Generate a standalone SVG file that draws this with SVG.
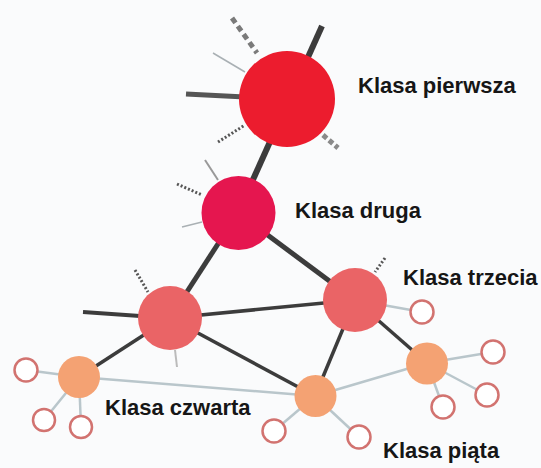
<svg xmlns="http://www.w3.org/2000/svg" width="541" height="468" viewBox="0 0 541 468">
<style>
.lbl{font-family:"Liberation Sans",Arial,sans-serif;font-weight:bold;font-size:22px;fill:#161616}
.dk{stroke:#3c3c3c;stroke-linecap:butt;fill:none}
.lt{stroke:#b9c6cb;stroke-width:2.5;fill:none}
.th{stroke:#a9b0b4;stroke-width:1.5;fill:none}
.dot{stroke:#555;stroke-width:3;stroke-dasharray:2 2;fill:none}
.dash{stroke:#7a7a7a;stroke-width:5;stroke-dasharray:6 4;fill:none}
.hol{fill:#ffffff;stroke:#d27370;stroke-width:2.5}
.or{fill:#f4a273}
.sal{fill:#ea6466}
</style>
<rect width="541" height="468" fill="#fafbfc"/>
<g id="connectors">
  <line class="dk" x1="322" y1="26" x2="238" y2="213" stroke-width="6"/>
  <line class="dk" x1="186" y1="94" x2="245" y2="97" stroke-width="5" style="stroke:#555"/>
  <line class="dash" x1="232" y1="18" x2="257" y2="53"/>
  <line class="dot" x1="218" y1="142" x2="245" y2="125"/>
  <line class="dash" x1="323" y1="135" x2="338" y2="148" style="stroke:#8a8a8a;stroke-dasharray:5 3"/>
  <line class="th" x1="213" y1="53" x2="245" y2="72"/>
  <line class="dk" x1="238" y1="213" x2="170" y2="318" stroke-width="5"/>
  <line class="dk" x1="238" y1="213" x2="355" y2="300" stroke-width="5"/>
  <line class="dot" x1="177" y1="184" x2="202" y2="195"/>
  <line class="th" x1="205" y1="160" x2="218" y2="180" style="stroke:#999;stroke-width:2"/>
  <line class="th" x1="182" y1="227" x2="202" y2="222"/>
  <line class="dk" x1="83" y1="312" x2="140" y2="316" stroke-width="4"/>
  <line class="dk" x1="170" y1="318" x2="355" y2="300" stroke-width="3.5"/>
  <line class="dk" x1="170" y1="318" x2="315" y2="396" stroke-width="3.5"/>
  <line class="dk" x1="170" y1="318" x2="79" y2="377" stroke-width="3.5"/>
  <line class="dot" x1="135" y1="270" x2="148" y2="292"/>
  <line class="th" x1="175" y1="350" x2="177" y2="367" style="stroke:#bbb;stroke-width:2"/>
  <line class="dk" x1="355" y1="300" x2="315" y2="396" stroke-width="3.5"/>
  <line class="dk" x1="355" y1="300" x2="427" y2="363" stroke-width="3.5"/>
  <line class="dot" x1="385" y1="258" x2="375" y2="272"/>
  <line class="lt" x1="355" y1="300" x2="422" y2="312"/>
  <line class="lt" x1="79" y1="377" x2="315" y2="396"/>
  <line class="lt" x1="315" y1="396" x2="427" y2="363"/>
  <line class="lt" x1="79" y1="377" x2="26" y2="370"/>
  <line class="lt" x1="79" y1="377" x2="44" y2="420"/>
  <line class="lt" x1="79" y1="377" x2="81" y2="427"/>
  <line class="lt" x1="315" y1="396" x2="274" y2="431"/>
  <line class="lt" x1="315" y1="396" x2="359" y2="437"/>
  <line class="lt" x1="427" y1="363" x2="493" y2="352"/>
  <line class="lt" x1="427" y1="363" x2="487" y2="395"/>
  <line class="lt" x1="427" y1="363" x2="443" y2="407"/>
</g>
<g id="klasa-pierwsza">
  <circle cx="287" cy="99" r="48" fill="#ec1c2e"/>
  <text class="lbl" x="358" y="93">Klasa pierwsza</text>
</g>
<g id="klasa-druga">
  <circle cx="238.5" cy="213" r="37" fill="#e5164f"/>
  <text class="lbl" x="295" y="218">Klasa druga</text>
</g>
<g id="klasa-trzecia">
  <circle class="sal" cx="355" cy="300" r="32"/>
  <text class="lbl" x="403" y="285">Klasa trzecia</text>
</g>
<g id="klasa-trzecia-2">
  <circle class="sal" cx="170" cy="318" r="32"/>
</g>
<g id="klasa-czwarta">
  <circle class="or" cx="79" cy="377" r="21"/>
  <text class="lbl" x="105" y="415">Klasa czwarta</text>
</g>
<g id="klasa-czwarta-2">
  <circle class="or" cx="315.5" cy="396" r="21"/>
</g>
<g id="klasa-czwarta-3">
  <circle class="or" cx="427" cy="363.5" r="21"/>
</g>
<g id="klasa-piata">
  <circle class="hol" cx="26" cy="370" r="11.5"/>
  <circle class="hol" cx="44" cy="420" r="11"/>
  <circle class="hol" cx="81" cy="427" r="11"/>
  <circle class="hol" cx="274" cy="431" r="11.5"/>
  <circle class="hol" cx="359" cy="437" r="11.5"/>
  <circle class="hol" cx="422" cy="312" r="11.5"/>
  <circle class="hol" cx="493" cy="352" r="11.5"/>
  <circle class="hol" cx="487" cy="395" r="11.5"/>
  <circle class="hol" cx="443" cy="407" r="11.5"/>
  <text class="lbl" x="383" y="458">Klasa piąta</text>
</g>
</svg>
